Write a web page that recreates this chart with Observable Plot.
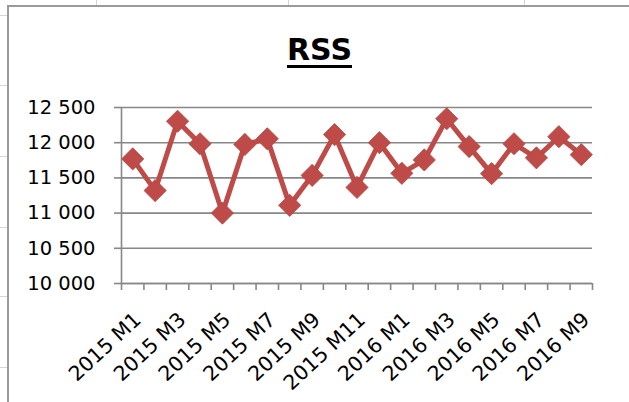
<!DOCTYPE html>
<html>
<head>
<meta charset="utf-8">
<script src="https://cdn.jsdelivr.net/npm/d3@7"></script>
<script src="https://cdn.jsdelivr.net/npm/@observablehq/plot@0.6"></script>
<style>
  html, body { margin: 0; padding: 0; background: #fff; }
  #wrap { position: relative; width: 629px; height: 402px; overflow: hidden; background: #fff; }
  #frame { position: absolute; left: 7px; top: 5px; width: 700px; height: 500px;
           border-left: 2px solid #9a9a9a; border-top: 2px solid #9a9a9a; box-sizing: border-box; }
  .cellv { position: absolute; top: 0; width: 1px; height: 5px; background: #d6d6d6; }
  .cellh { position: absolute; left: 0; width: 7px; height: 1px; background: #d6d6d6; }
  #title { position: absolute; left: 0; width: 639px; top: 32px; text-align: center;
           font-family: "DejaVu Sans", sans-serif; font-weight: bold; font-size: 30px; line-height: normal;
           color: #000; text-decoration: underline; text-decoration-thickness: 3px; text-underline-offset: 5px; }
  #chart { position: absolute; left: 0; top: 0; }
</style>
</head>
<body>
<div id="wrap">
  <div class="cellv" style="left:96px"></div>
  <div class="cellv" style="left:288px"></div>
  <div class="cellv" style="left:524px"></div>
  <div class="cellh" style="top:15px"></div>
  <div class="cellh" style="top:85px"></div>
  <div class="cellh" style="top:156px"></div>
  <div class="cellh" style="top:227px"></div>
  <div class="cellh" style="top:296px"></div>
  <div class="cellh" style="top:367px"></div>
  <div id="frame"></div>
  <div id="chart"></div>
  <div id="title">RSS</div>
</div>
<script>
const categories = ["2015 M1","2015 M2","2015 M3","2015 M4","2015 M5","2015 M6","2015 M7","2015 M8","2015 M9","2015 M10","2015 M11","2015 M12",
                    "2016 M1","2016 M2","2016 M3","2016 M4","2016 M5","2016 M6","2016 M7","2016 M8","2016 M9"];
const values = [11770, 11320, 12305, 11985, 11000, 11975, 12055, 11110, 11535, 12115, 11365, 12000,
                11565, 11755, 12340, 11945, 11560, 11985, 11785, 12085, 11830];
const yTicks = [10000, 10500, 11000, 11500, 12000, 12500];

const data = categories.map((c, i) => ({label: c, idx: i + 0.5, value: values[i]}));
const labeled = data.filter((d, i) => i % 2 === 0);
const boundaries = d3.range(categories.length + 1);
const fmt = v => d3.format(",")(v).replace(/,/g, " ");
const gray = "#878787";
const red = "#BE4B48";

const chart = Plot.plot({
  width: 629,
  height: 402,
  marginLeft: 121,
  marginRight: 37,
  marginTop: 107,
  marginBottom: 119,
  style: {fontFamily: "DejaVu Sans, sans-serif", fontSize: "19.5px", background: "transparent", color: "#000"},
  x: {type: "linear", domain: [0, categories.length], axis: null},
  y: {domain: [10000, 12500], axis: null},
  marks: [
    Plot.gridY(yTicks, {stroke: gray, strokeOpacity: 1, strokeWidth: 1.6}),
    Plot.ruleX([0], {stroke: gray, strokeWidth: 1.6}),
    Plot.ruleY([10000], {stroke: gray, strokeWidth: 1.6}),
    Plot.axisY({ticks: yTicks, tickFormat: fmt, label: null, tickSize: 7, tickPadding: 19, stroke: gray, strokeWidth: 1.6, fill: "#000", fontSize: 19.5}),
    Plot.axisX({ticks: boundaries, tickFormat: () => "", label: null, tickSize: 7, stroke: gray, strokeWidth: 1.6}),
    Plot.text(labeled, {x: "idx", y: () => 10000, text: "label", rotate: -43, textAnchor: "end", lineAnchor: "middle",
                        dx: 5, dy: 33, fill: "#000", fontSize: 20.5}),
    Plot.line(data, {x: "idx", y: "value", stroke: red, strokeWidth: 5, strokeLinejoin: "round"}),
    Plot.dot(data, {x: "idx", y: "value", symbol: "diamond2", r: 10, fill: red, stroke: "#b54541", strokeWidth: 0.8})
  ]
});
document.getElementById("chart").appendChild(chart);
</script>
</body>
</html>
